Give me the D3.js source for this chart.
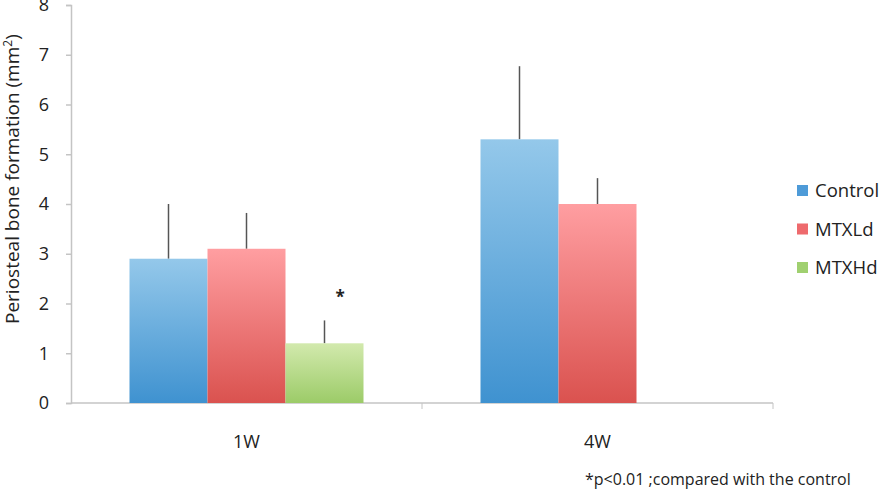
<!DOCTYPE html>
<html>
<head>
<meta charset="utf-8">
<script src="https://cdn.jsdelivr.net/npm/d3@7"></script>
<style>
  body { margin: 0; background: #fff; }
  text { font-family: "Open Sans", sans-serif; fill: #222; }
</style>
</head>
<body>
<svg id="chart" width="893" height="490"></svg>
<script>
// data
const weeks = ["1W", "4W"];
const groups = ["Control", "MTXLd", "MTXHd"];
const control = [2.9, 5.3];
const controlErr = [1.1, 1.47];
const mtxLd = [3.1, 4.0];
const mtxLdErr = [0.72, 0.52];
const mtxHd = [1.2, null];
const mtxHdErr = [0.46, null];
const yTicks = [0, 1, 2, 3, 4, 5, 6, 7, 8];

const svg = d3.select("#chart");
const margin = { top: 5, left: 71, right: 120, bottom: 87 };
const width = 893, height = 490;

const x0 = d3.scaleBand().domain(weeks).range([margin.left, width - margin.right]);
const x1 = d3.scaleBand().domain(groups)
  .range([x0.bandwidth() / 6, x0.bandwidth() * 5 / 6]);
const y = d3.scaleLinear().domain([0, 8]).range([height - margin.bottom, margin.top]);

const grads = {
  Control: ["#94c8ea", "#3f92d0"],
  MTXLd: ["#ff9ea1", "#da524f"],
  MTXHd: ["#d2e9ad", "#9ccb68"]
};
const legendColors = { Control: "#4e9bd8", MTXLd: "#ee6a6d", MTXHd: "#a0d070" };

const defs = svg.append("defs");
groups.forEach(g => {
  const lg = defs.append("linearGradient").attr("id", "g-" + g)
    .attr("x1", 0).attr("y1", 0).attr("x2", 0).attr("y2", 1);
  lg.append("stop").attr("offset", "0%").attr("stop-color", grads[g][0]);
  lg.append("stop").attr("offset", "100%").attr("stop-color", grads[g][1]);
});

// axes
const yAxis = svg.append("g").attr("transform", `translate(${margin.left},0)`)
  .call(d3.axisLeft(y).tickValues(yTicks).tickSize(5).tickPadding(17));
yAxis.selectAll("text").style("font-size", "18px");

const xAxis = svg.append("g").attr("transform", `translate(0,${y(0)})`)
  .call(d3.axisBottom(x0).tickSize(0).tickPadding(32));
xAxis.selectAll("text").style("font-size", "18px");
xAxis.selectAll(".domain").remove();
svg.append("line")
  .attr("x1", margin.left).attr("x2", width - margin.right)
  .attr("y1", y(0)).attr("y2", y(0))
  .attr("stroke", "#c4c4c4").attr("stroke-width", 1.5);
const bounds = weeks.map(w => x0(w) + x0.bandwidth());
svg.selectAll(".xtick").data(bounds).join("line")
  .attr("x1", d => d).attr("x2", d => d)
  .attr("y1", y(0)).attr("y2", y(0) + 6)
  .attr("stroke", "#c4c4c4");
yAxis.selectAll(".domain, line").attr("stroke", "#c4c4c4").attr("stroke-width", 1.5);

// bars
const series = { Control: [control, controlErr], MTXLd: [mtxLd, mtxLdErr], MTXHd: [mtxHd, mtxHdErr] };
const rows = [];
weeks.forEach((w, i) => groups.forEach(g => {
  const v = series[g][0][i];
  if (v != null) rows.push({ w, g, v, e: series[g][1][i] });
}));

svg.selectAll(".err").data(rows).join("line")
  .attr("x1", d => x0(d.w) + x1(d.g) + x1.bandwidth() / 2)
  .attr("x2", d => x0(d.w) + x1(d.g) + x1.bandwidth() / 2)
  .attr("y1", d => y(d.v)).attr("y2", d => y(d.v + d.e))
  .attr("stroke", "#555").attr("stroke-width", 1.5);

svg.selectAll(".bar").data(rows).join("rect")
  .attr("x", d => x0(d.w) + x1(d.g))
  .attr("width", x1.bandwidth())
  .attr("y", d => y(d.v))
  .attr("height", d => y(0) - y(d.v))
  .attr("fill", d => `url(#g-${d.g})`);

// significance mark
svg.append("text")
  .attr("x", x0("1W") + x1("MTXHd") + x1.bandwidth() * 0.7)
  .attr("y", y(mtxHd[0] + mtxHdErr[0]) - 17)
  .attr("text-anchor", "middle").style("font-size", "17px").style("font-weight", "bold")
  .text("*");

// y label
svg.append("text")
  .attr("transform", `translate(19,${y(4.5)}) rotate(-90)`)
  .attr("text-anchor", "middle").style("font-size", "19px")
  .html('Periosteal bone formation (mm<tspan dy="-7" font-size="12px">2</tspan><tspan dy="7">)</tspan>');

// legend
const legend = svg.append("g").attr("transform", "translate(797,191)");
groups.forEach((g, i) => {
  const row = legend.append("g").attr("transform", `translate(0,${i * 38.5})`);
  row.append("rect").attr("x", 0).attr("y", -6).attr("width", 11).attr("height", 11)
    .attr("fill", legendColors[g]);
  row.append("text").attr("x", 18).attr("y", 0).attr("dy", "0.35em")
    .style("font-size", "18.5px").text(g);
});

// footnote
svg.append("text").attr("x", 585).attr("y", 485)
  .style("font-size", "16px").text("*p<0.01 ;compared with the control");
</script>
</body>
</html>
